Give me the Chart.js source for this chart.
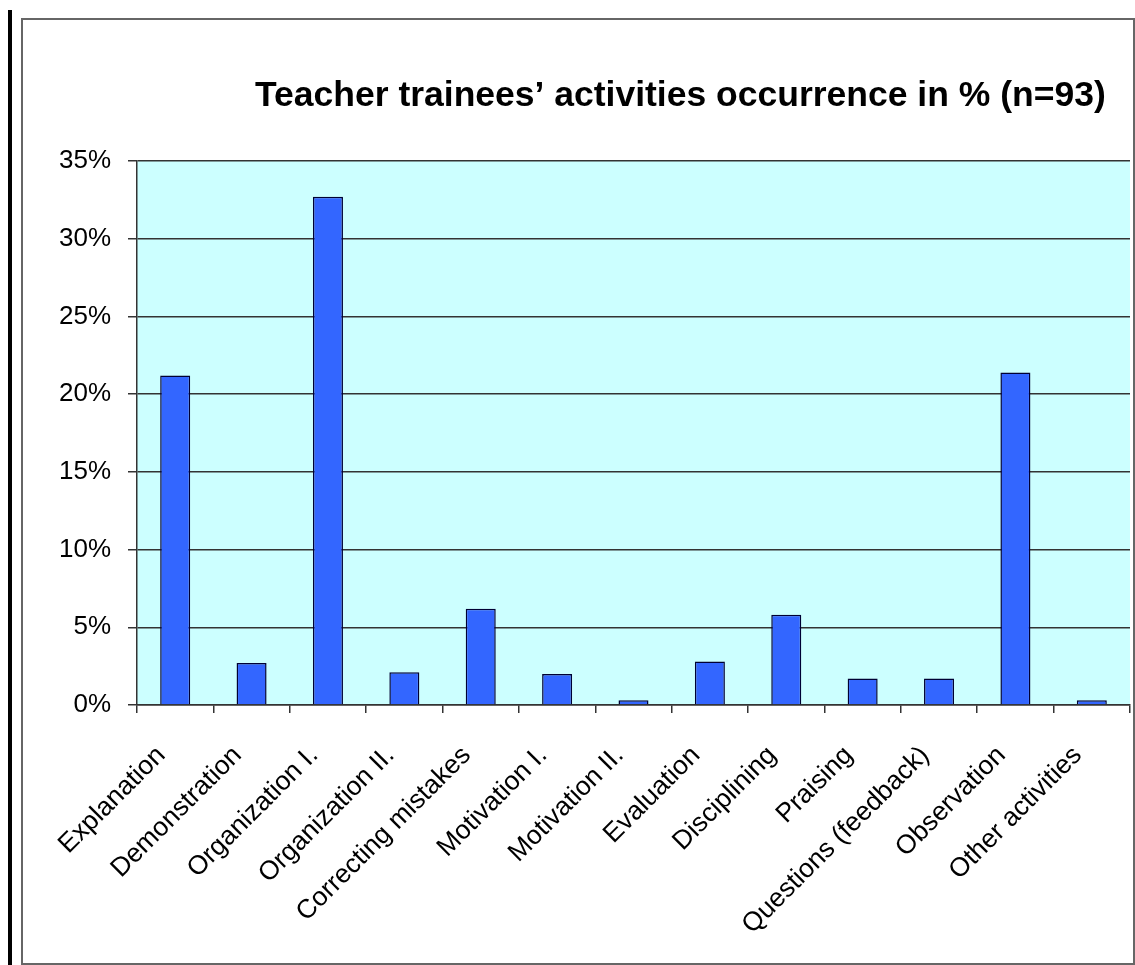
<!DOCTYPE html>
<html>
<head>
<meta charset="utf-8">
<script src="https://cdn.jsdelivr.net/npm/chart.js@4/dist/chart.umd.min.js"></script>
<style>
  body { margin: 0; background: #fff; }
  #wrap { position: relative; width: 1135px; height: 965px; overflow: hidden; }
  #bar { position: absolute; left: 8px; top: 10px; width: 4px; height: 960px; background: #000; }
  #frame { position: absolute; left: 21px; top: 18px; width: 1110px; height: 943px; border: 2px solid #666; }
  #chart { position: absolute; left: 0; top: 0; }
</style>
</head>
<body>
<div id="wrap">
  <div id="bar"></div>
  <div id="frame"></div>
  <canvas id="chart" width="1135" height="965"></canvas>
</div>
<script>
const titleText = 'Teacher trainees\u2019 activities occurrence in % (n=93)';
const activities = ['Explanation', 'Demonstration', 'Organization I.', 'Organization II.',
  'Correcting mistakes', 'Motivation I.', 'Motivation II.', 'Evaluation', 'Disciplining',
  'Praising', 'Questions (feedback)', 'Observation', 'Other activities'];
const occurrence = [21.2, 2.7, 32.7, 2.1, 6.2, 2.0, 0.3, 2.8, 5.8, 1.7, 1.7, 21.4, 0.3];
const yTicks = [0, 5, 10, 15, 20, 25, 30, 35];

const fontFamily = '"Liberation Sans", Arial, sans-serif';

// cyan plot background + title drawn at its spot
const plotBg = {
  id: 'plotBg',
  beforeDraw(chart) {
    const {ctx, chartArea: a} = chart;
    ctx.save();
    ctx.fillStyle = '#CCFFFF';
    ctx.fillRect(a.left, a.top, a.right - a.left, a.bottom - a.top);
    ctx.restore();
  },
  afterDraw(chart) {
    const ctx = chart.ctx;
    ctx.save();
    ctx.font = 'bold 35.5px ' + fontFamily;
    ctx.fillStyle = '#000';
    ctx.textAlign = 'left';
    ctx.textBaseline = 'alphabetic';
    ctx.fillText(titleText, 255, 106);
    ctx.restore();
  }
};

new Chart(document.getElementById('chart').getContext('2d'), {
  type: 'bar',
  data: {
    labels: activities,
    datasets: [{
      data: occurrence,
      backgroundColor: '#3366FF',
      borderColor: '#000033',
      borderWidth: 1.5,
      categoryPercentage: 1,
      barPercentage: 0.393
    }]
  },
  options: {
    responsive: false,
    animation: false,
    layout: { padding: { top: 161, right: 5, left: 0, bottom: 0 } },
    plugins: { legend: { display: false }, title: { display: false }, tooltip: { enabled: false } },
    scales: {
      x: {
        afterFit(scale) {
          scale.height = 260;
          scale.paddingLeft = 0;
          scale.paddingRight = 0;
        },
        grid: { offset: true, drawOnChartArea: false, tickLength: 8, color: '#333', lineWidth: 1.5 },
        border: { color: '#333', width: 1.5 },
        ticks: {
          autoSkip: false, minRotation: 45, maxRotation: 45, padding: 27, labelOffset: -14,
          color: '#000', font: { family: fontFamily, size: 26.5 }
        }
      },
      y: {
        min: 0, max: 35,
        afterFit(scale) { scale.width = 137; },
        afterBuildTicks(scale) { scale.ticks = yTicks.map(v => ({ value: v })); },
        grid: { color: '#333', lineWidth: 1.5, tickLength: 9 },
        border: { color: '#333', width: 1.5 },
        ticks: {
          padding: 17, color: '#000', font: { family: fontFamily, size: 26 },
          callback: v => v + '%'
        }
      }
    }
  },
  plugins: [plotBg]
});
</script>
</body>
</html>
